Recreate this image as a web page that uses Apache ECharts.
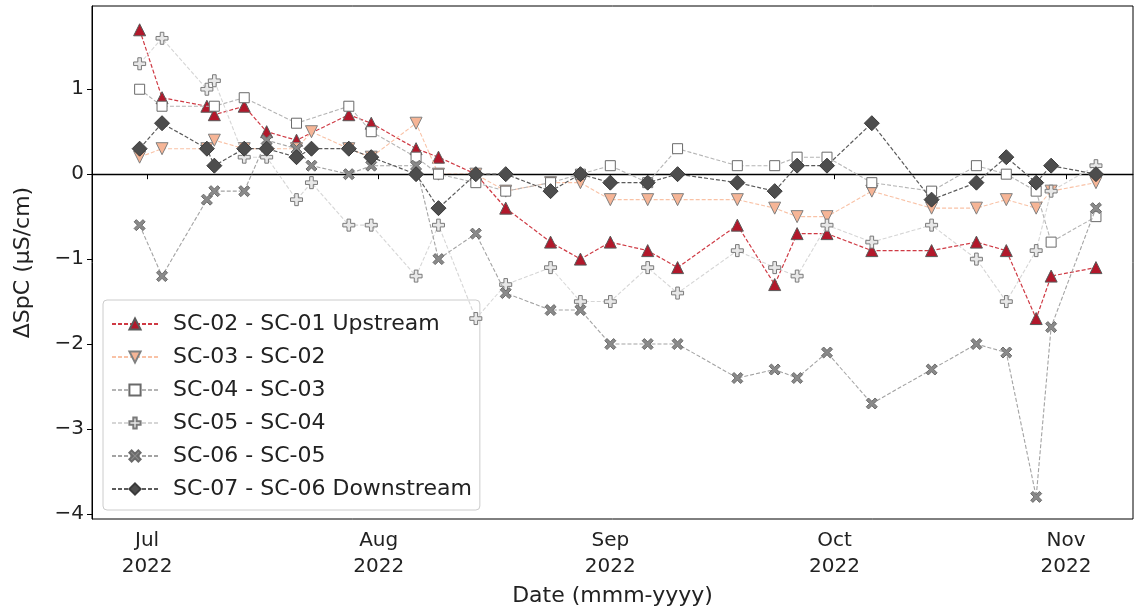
<!DOCTYPE html>
<html>
<head>
<meta charset="utf-8">
<script src="https://cdn.jsdelivr.net/npm/echarts@6/dist/echarts.min.js"></script>
<style>
html,body{margin:0;padding:0;background:#fff;}
#chart{width:1135px;height:611px;}
</style>
</head>
<body>
<div id="chart"></div>
<script>
// ---- data ----
const dates = ['2022-06-30','2022-07-03','2022-07-09','2022-07-10','2022-07-14','2022-07-17','2022-07-21','2022-07-23','2022-07-28','2022-07-31',
  '2022-08-06','2022-08-09','2022-08-14','2022-08-18','2022-08-24','2022-08-28','2022-09-01','2022-09-06','2022-09-10','2022-09-18',
  '2022-09-23','2022-09-26','2022-09-30','2022-10-06','2022-10-14','2022-10-20','2022-10-24','2022-10-28','2022-10-30','2022-11-05'];

const sc02_sc01 = [1.7,0.9,0.8,0.7,0.8,0.5,0.4,null,0.7,0.6, 0.3,0.2,0.0,-0.4,-0.8,-1.0,-0.8,-0.9,-1.1,-0.6, -1.3,-0.7,-0.7,-0.9,-0.9,-0.8,-0.9,-1.7,-1.2,-1.1];
const sc03_sc02 = [0.2,0.3,0.3,0.4,0.3,null,0.3,0.5,0.3,0.2, 0.6,0.0,0.0,-0.2,-0.1,-0.1,-0.3,-0.3,-0.3,-0.3, -0.4,-0.5,-0.5,-0.2,-0.4,-0.4,-0.3,-0.4,-0.2,-0.1];
const sc04_sc03 = [1.0,0.8,null,0.8,0.9,null,0.6,null,0.8,0.5, 0.2,0.0,-0.1,-0.2,-0.1,0.0,0.1,-0.1,0.3,0.1, 0.1,0.2,0.2,-0.1,-0.2,0.1,0.0,-0.2,-0.8,-0.5];
const sc05_sc04 = [1.3,1.6,1.0,1.1,0.2,0.2,-0.3,-0.1,-0.6,-0.6, -1.2,-0.6,-1.7,-1.3,-1.1,-1.5,-1.5,-1.1,-1.4,-0.9, -1.1,-1.2,-0.6,-0.8,-0.6,-1.0,-1.5,-0.9,-0.2,0.1];
const sc06_sc05 = [-0.6,-1.2,-0.3,-0.2,-0.2,0.4,0.3,0.1,0.0,0.1, 0.1,-1.0,-0.7,-1.4,-1.6,-1.6,-2.0,-2.0,-2.0,-2.4, -2.3,-2.4,-2.1,-2.7,-2.3,-2.0,-2.1,-3.8,-1.8,-0.4];
const sc07_sc06 = [0.3,0.6,0.3,0.1,0.3,0.3,0.2,0.3,0.3,0.2, 0.0,-0.4,0.0,0.0,-0.2,0.0,-0.1,-0.1,0.0,-0.1, -0.2,0.1,0.1,0.6,-0.3,-0.1,0.2,-0.1,0.1,0.0];

const seriesNames = ['SC-02 - SC-01 Upstream','SC-03 - SC-02','SC-04 - SC-03','SC-05 - SC-04','SC-06 - SC-05','SC-07 - SC-06 Downstream'];
const monthTicks = ['2022-07-01','2022-08-01','2022-09-01','2022-10-01','2022-11-01'];
const monthNames = ['Jan','Feb','Mar','Apr','May','Jun','Jul','Aug','Sep','Oct','Nov','Dec'];
const yTicks = [-4,-3,-2,-1,0,1];
const xRange = ['2022-06-23T15:00:00','2022-11-09T23:00:00'];
const yRange = [-4.06, 1.98];

// ---- helpers ----
function ts(s){ return new Date(s.length === 10 ? s + 'T00:00:00' : s).getTime(); }
function pairs(vals){ const out=[]; vals.forEach((v,i)=>{ if(v!==null) out.push([ts(dates[i]), v]); }); return out; }

const styles = [
  {symbol:'triangle', size:12, fill:'#b2182b', edge:'#5a5a5a', line:'#cf3a44', lw:1.2},
  {symbol:'path://M0,0 L10,0 L5,9 Z', size:12, fill:'#f6b596', edge:'#808080', line:'#f9c2a6', lw:1.1},
  {symbol:'rect', size:10, fill:'#ffffff', edge:'#6a6a6a', line:'#b4b4b4', lw:1.1},
  {symbol:'path://M3.5,0 H6.5 V3.5 H10 V6.5 H6.5 V10 H3.5 V6.5 H0 V3.5 H3.5 Z', size:12, fill:'#e8e8e8', edge:'#7a7a7a', line:'#d6d6d6', lw:1.1},
  {symbol:'path://M2,0 L5,3 L8,0 L10,2 L7,5 L10,8 L8,10 L5,7 L2,10 L0,8 L3,5 L0,2 Z', size:11, fill:'#8a8a8a', edge:'#6a6a6a', line:'#a3a3a3', lw:1.1},
  {symbol:'path://M5,0 L10,5 L5,10 L0,5 Z', size:15, fill:'#4d4d4d', edge:'#3a3a3a', line:'#5a5a5a', lw:1.2}
];
const allVals = [sc02_sc01, sc03_sc02, sc04_sc03, sc05_sc04, sc06_sc05, sc07_sc06];

const series = allVals.map((vals, i) => {
  const st = styles[i];
  const s = {
    name: seriesNames[i],
    type: 'line',
    data: pairs(vals),
    symbol: st.symbol,
    symbolSize: st.size,
    showAllSymbol: true,
    clip: false,
    z: 3 + i,
    lineStyle: {color: st.line, width: st.lw, type: [4, 2]},
    itemStyle: {color: st.fill, borderColor: st.edge, borderWidth: 1},
    emphasis: {disabled: true},
    animation: false
  };
  if (i === 0) {
    s.markLine = {
      silent: true, symbol: 'none', label: {show: false},
      lineStyle: {color: '#000', width: 1.3, type: 'solid'},
      data: [{yAxis: 0}], animation: false
    };
  }
  return s;
});

const chart = echarts.init(document.getElementById('chart'), null, {renderer: 'canvas'});
chart.setOption({
  animation: false,
  backgroundColor: '#fff',
  textStyle: {fontFamily: 'DejaVu Sans'},
  grid: {left: 92, top: 6, right: 2, bottom: 92, show: true, borderColor: '#000', borderWidth: 1,
         containLabel: false, outerBoundsMode: 'none'},
  legend: {
    orient: 'vertical', left: 103, top: 300,
    padding: [13, 8, 10, 8],
    backgroundColor: 'rgba(255,255,255,0.8)',
    borderColor: '#cccccc', borderWidth: 1, borderRadius: 4,
    itemWidth: 46, itemHeight: 14, itemGap: 11,
    textStyle: {fontFamily: 'DejaVu Sans', fontSize: 22, color: '#222', padding: [0, 0, 0, 10]},
    data: seriesNames
  },
  xAxis: {
    type: 'value',
    min: ts(xRange[0]), max: ts(xRange[1]),
    name: 'Date (mmm-yyyy)', nameLocation: 'middle', nameGap: 64,
    nameTextStyle: {fontFamily: 'DejaVu Sans', fontSize: 22, color: '#222'},
    axisLine: {show: true, lineStyle: {color: '#000', width: 1}},
    axisTick: {show: true, length: 5, lineStyle: {color: '#000'}, customValues: monthTicks.map(ts)},
    axisLabel: {
      customValues: monthTicks.map(ts),
      fontFamily: 'DejaVu Sans', fontSize: 20, color: '#222', margin: 9, lineHeight: 26,
      formatter: function (v) { const d = new Date(v); return monthNames[d.getMonth()] + '\n' + d.getFullYear(); }
    },
    splitLine: {show: false}
  },
  yAxis: {
    type: 'value',
    min: yRange[0], max: yRange[1],
    name: 'ΔSpC (µS/cm)', nameLocation: 'middle', nameGap: 58, nameRotate: 90,
    nameTextStyle: {fontFamily: 'DejaVu Sans', fontSize: 22, color: '#222'},
    axisLine: {show: true, lineStyle: {color: '#000', width: 1}},
    axisTick: {show: true, length: 5, lineStyle: {color: '#000'}, customValues: yTicks},
    axisLabel: {
      customValues: yTicks,
      fontFamily: 'DejaVu Sans', fontSize: 20, color: '#222', margin: 8,
      formatter: function (v) { return v < 0 ? '\u2212' + Math.abs(v) : String(v); }
    },
    splitLine: {show: false}
  },
  series: series
});
</script>
</body>
</html>
